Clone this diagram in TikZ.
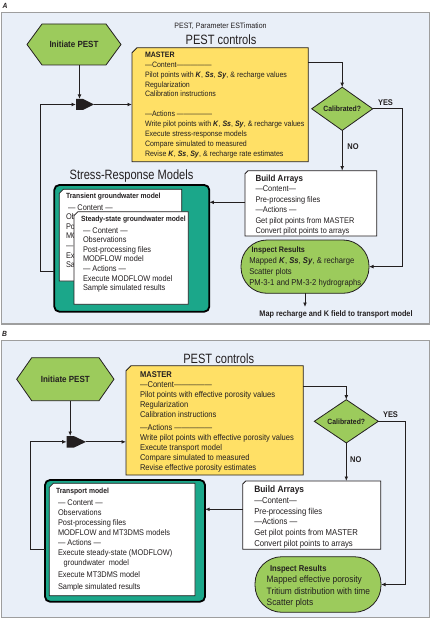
\documentclass[tikz,border=0pt]{standalone}
\usepackage{fontspec}
\setmainfont{Liberation Sans}[FakeStretch=0.9]
\newfontfamily\ttlfont{Liberation Sans}[FakeStretch=0.82]
\usetikzlibrary{calc,fit,shapes.geometric,arrows.meta}

\definecolor{panelbg}{HTML}{E9EFF8}
\definecolor{panelline}{HTML}{9E9E9E}
\definecolor{pgreen}{HTML}{9CCB5C}
\definecolor{pyellow}{HTML}{FFE066}
\definecolor{pteal}{HTML}{1BA78A}
\definecolor{ink}{HTML}{231F20}

\newcommand{\setfs}[2]{\fontsize{#1}{#2}\selectfont}
\newcommand{\KSS}{\textbf{\textit{K}}, \textbf{\textit{Ss}}, \textbf{\textit{Sy}},}
\newcommand{\ind}{\hspace{2pt}}

\tikzset{
  panel/.style={inner sep=0pt, outer sep=0pt, fill=panelbg, draw=panelline, line width=1.2pt},
  arr/.style={draw=ink, line width=0.9pt, -{Latex[length=4.5pt,width=3.8pt]}},
  txt/.style={inner sep=0pt, outer sep=0pt, align=left, anchor=north west, text=ink},
  lbl/.style={inner sep=0pt, font=\setfs{7.5}{9}\bfseries\itshape, text=ink},
  ttl/.style={inner sep=0pt, font=\ttlfont\setfs{13.5}{15}, text=ink},
  hextxt/.style={inner sep=0pt, font=\setfs{8.9}{10}\bfseries, text=ink},
  yn/.style={inner sep=0pt, font=\setfs{8.3}{10}\bfseries, text=ink},
  whitebox/.style={fill=white, draw=ink, line width=0.8pt},
  yellowbox/.style={fill=pyellow, draw=ink, line width=0.8pt},
  cardbox/.style={fill=white, draw=ink, line width=0.7pt},
  hexst/.style={fill=pgreen, draw=ink, line width=0.8pt},
  greenstad/.style={inner sep=0pt, outer sep=0pt, fill=pgreen, draw=ink, line width=0.8pt},
  tealbox/.style={inner sep=0pt, outer sep=0pt, fill=pteal, draw=black, line width=1.8pt, rounded corners=5pt},
  dia/.style={diamond, inner sep=0pt, outer sep=0pt, fill=pgreen, draw=ink, line width=0.8pt, font=\setfs{7.6}{9}\bfseries, text=ink},
}

\newcommand{\chambox}[7]{%
  \node[inner sep=0pt, outer sep=0pt, fit={(#2,#3) (#4,#5)}] (#1) {};
  \filldraw[#7] ($(#1.north west)+(#6,0)$) -- (#1.north east) -- (#1.south east) -- (#1.south west) -- ($(#1.north west)+(0,#6)$) -- cycle;
}
\newcommand{\hexbox}[5]{%
  \node[inner sep=0pt, outer sep=0pt, fit={(#2,#3) (#4,#5)}] (#1) {};
  \filldraw[hexst] (#1.west) -- ($(#1.north west)+(15,0)$) -- ($(#1.north east)+(-15,0)$) -- (#1.east) -- ($(#1.south east)+(-15,0)$) -- ($(#1.south west)+(15,0)$) -- cycle;
}
\newcommand{\mergebox}[6]{%
  \node[inner sep=0pt, outer sep=0pt, fit={(#2,#3) (#4,#5)}] (#1) {};
  \coordinate (#1tip) at (#6,{(#3+#5)/2});
  \fill[ink] (#1.north west) -- (#1.north east) -- (#1tip) -- (#1.south east) -- (#1.south west) -- cycle;
}

\begin{document}
\begin{tikzpicture}[x=1pt,y=-1pt]
\useasboundingbox (0,0) rectangle (431,620);

% ================= PANEL A =================
\node[panel, fit={(1.7,12.7) (429.3,324)}] (panelA) {};
\node[lbl] (labA) at (5,5.5) {A};
\node[inner sep=0pt, font=\setfs{7.8}{9}, text=ink] (subA) at (220.5,26) {PEST, Parameter ESTimation};
\node[ttl] (ttlA) at (221,40) {PEST controls};

\hexbox{hexA}{27}{24}{121}{65}
\node[hextxt] (hexAt) at (hexA) {Initiate PEST};

\mergebox{mA}{76}{99}{83}{110}{94}
\coordinate (cornerA) at (40,104.5);
\coordinate (loopA) at (54.3,271);

\chambox{masterA}{132}{47.7}{308.3}{161.7}{5}{yellowbox}
\node[txt, font=\setfs{7.8}{9.87}] (masterAt) at (145,52) {\textbf{MASTER}\\—Content—————\\Pilot points with \KSS{} \& recharge values\\Regularization\\Calibration instructions\\[9.87pt]—Actions —————\\Write pilot points with \KSS{} \& recharge values\\Execute stress-response models\\Compare simulated to measured\\Revise \KSS{} \& recharge rate estimates};

\node[dia, minimum width=61pt, minimum height=34pt] (diaA) at (342.2,108.8) {Calibrated?};
\node[yn] (yesA) at (385.5,102.7) {YES};
\node[yn] (noA) at (353,146.7) {NO};

\chambox{buildA}{245}{170.7}{376.7}{236}{3}{whitebox}
\node[txt, font=\setfs{8.2}{10.4}] (buildAt) at (255.5,175) {{\setfs{8.9}{10.4}\bfseries Build Arrays}\\—Content—\\Pre-processing files\\—Actions —\\Get pilot points from MASTER\\Convert pilot points to arrays};

\node[greenstad, fit={(241,240) (369,293.3)}, rounded corners=26pt] (inspA) {};
\node[txt, font=\setfs{8.5}{10.9}] (inspAt) at (249.3,247) {\hspace{2.4pt}{\setfs{8}{10.9}\bfseries Inspect Results}\\Mapped \KSS{} \& recharge\\Scatter plots\\PM-3-1 and PM-3-2 hydrographs};

\node[inner sep=0pt, font=\setfs{8.1}{9}\bfseries, text=ink] (mapA) at (336,314) {Map recharge and K field to transport model};

\node[ttl] (stressTtl) at (131.5,176) {Stress-Response Models};
\node[tealbox, fit={(54.3,185) (209.3,311.7)}] (stressA) {};
\chambox{transA}{59.3}{189.3}{181.7}{281}{4}{cardbox}
\node[txt, font=\setfs{8.2}{9.6}] (transAt) at (66,193) {{\setfs{7.5}{9.6}\bfseries Transient groundwater model}\\[2.5pt]\ind — Content —};
\node[txt, font=\setfs{8.2}{9.6}] (transAfrag) at (66,213.7) {Ob\\Po\\MO\\—\\Ex\\Sa};
\chambox{steadyA}{74}{211.7}{188.3}{304.3}{4}{cardbox}
\node[txt, font=\setfs{8.2}{9.55}] (steadyAt) at (81,216.3) {{\setfs{7.5}{9.55}\bfseries Steady-state groundwater model}\\[2pt]\ind — Content —\\\ind Observations\\\ind Post-processing files\\\ind MODFLOW model\\\ind — Actions —\\\ind Execute MODFLOW model\\\ind Sample simulated results};

% connectors A
\draw[arr] (hexA.south -| mA.north) -- (mA.north);
\draw[arr] (loopA) -| (cornerA) -- (mA.west);
\draw[arr] (mAtip) -- (mAtip -| masterA.west);
\draw[arr] ($(masterA.north east)+(0,15)$) -| (diaA.north);
\draw[arr] (diaA.east) -- ++(29.5,0) |- (inspA.east);
\draw[arr] (diaA.south) -- (diaA.south |- buildA.north);
\coordinate (bA) at ($(buildA.north west)+(0,31.6)$);
\draw[arr] (bA) -- (bA -| stressA.east);
\draw[arr, shorten >=3pt] (inspA.south) -- (inspA.south |- mapA.north);

% ================= PANEL B =================
\node[panel, fit={(1.7,340.7) (429.3,617.5)}] (panelB) {};
\node[lbl] (labB) at (4.5,333.5) {B};
\node[ttl] (ttlB) at (218.7,358.3) {PEST controls};

\hexbox{hexB}{16.7}{357.7}{114}{400.7}
\node[hextxt] (hexBt) at (hexB) {Initiate PEST};

\mergebox{mB}{66.7}{436}{73.7}{447.7}{86}
\coordinate (cornerB) at (30,441.85);
\coordinate (loopB) at (45,549);

\chambox{masterB}{126}{365.7}{303.3}{475}{5}{yellowbox}
\node[txt, font=\setfs{8.4}{10}] (masterBt) at (140,371.3) {\textbf{MASTER}\\—Content—————\\Pilot points with effective porosity values\\Regularization\\Calibration instructions\\[3pt]—Actions —————\\Write pilot points with effective porosity values\\Execute transport model\\Compare simulated to measured\\Revise effective porosity estimates};

\node[dia, minimum width=64pt, minimum height=36pt] (diaB) at (346.3,421.3) {Calibrated?};
\node[yn] (yesB) at (390.5,414.3) {YES};
\node[yn] (noB) at (355.8,459.3) {NO};

\chambox{buildB}{242.7}{481}{380.7}{549.3}{3}{whitebox}
\node[txt, font=\setfs{8.6}{10.7}] (buildBt) at (254.3,486) {{\setfs{9.3}{10.7}\bfseries Build Arrays}\\—Content—\\Pre-processing files\\—Actions —\\Get pilot points from MASTER\\Convert pilot points to arrays};

\node[greenstad, fit={(255,556.7) (381,612.3)}, rounded corners=27pt] (inspB) {};
\node[txt, font=\setfs{9.3}{11.3}] (inspBt) at (266.7,565.3) {\hspace{3.3pt}{\setfs{8.5}{11.3}\bfseries Inspect Results}\\Mapped effective porosity\\Tritium distribution with time\\Scatter plots};

\node[tealbox, fit={(45,480) (205,601.7)}] (transB) {};
\chambox{cardB}{49.3}{483.3}{195}{595.7}{4}{cardbox}
\node[txt, font=\setfs{8.2}{10}] (cardBt) at (56,487.7) {{\setfs{7.5}{10}\bfseries Transport model}\\[2pt]\ind — Content —\\\ind Observations\\\ind Post-processing files\\\ind MODFLOW and MT3DMS models\\\ind — Actions —\\\ind Execute steady-state (MODFLOW)\\\ind\hspace{5.7pt}groundwater\ \ model\\[2.3pt]\ind Execute MT3DMS model\\[1.7pt]\ind Sample simulated results};

% connectors B
\draw[arr] (hexB.south -| mB.north) -- (mB.north);
\draw[arr] (loopB) -| (cornerB) -- (mB.west);
\draw[arr] (mBtip) -- (mBtip -| masterB.west);
\draw[arr] ($(masterB.north east)+(0,20.3)$) -| (diaB.north);
\draw[arr] (diaB.east) -- ++(26.7,0) |- (inspB.east);
\draw[arr] (diaB.south) -- (diaB.south |- buildB.north);
\coordinate (bB) at ($(buildB.north west)+(0,28.3)$);
\draw[arr] (bB) -- (bB -| transB.east);
\end{tikzpicture}
\end{document}
